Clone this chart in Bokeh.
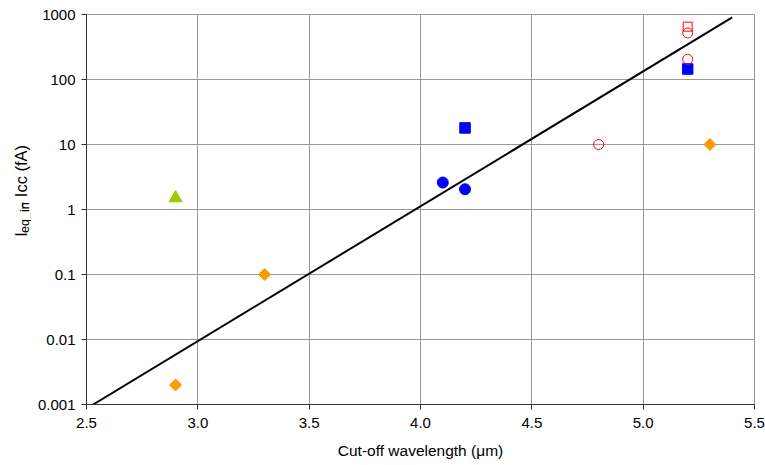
import math
from bokeh.plotting import figure
from bokeh.layouts import row
from bokeh.models import FixedTicker, PrintfTickFormatter
from bokeh.core.properties import value
from bokeh.embed import file_html
from bokeh.resources import INLINE

# ---- data ----
x_ticks = [2.5, 3.0, 3.5, 4.0, 4.5, 5.0, 5.5]
y_ticks = [0.001, 0.01, 0.1, 1, 10, 100, 1000]

tri_x = [2.9]
tri_y = [1.5]
dia_x = [2.9, 3.3, 5.3]
dia_y = [0.002, 0.1, 10]
bcirc_x = [4.1, 4.2]
bcirc_y = [2.6, 2.05]
bsq_x = [4.2, 5.2]
bsq_y = [18, 145]
rsq_x = [5.2]
rsq_y = [650]
rcirc_x = [4.8, 5.2, 5.2]
rcirc_y = [10, 205, 520]
fit_x = [2.53, 5.4]
fit_y = [0.001, 900]

y_label_parts = ["I", "eq_in", " - Icc (fA)"]

FONT = "Liberation Sans"
LEFT_W = 31
H = 465

p = figure(width=765 - LEFT_W, height=H, x_range=(2.5, 5.5), y_range=(0.001, 1000),
           y_axis_type="log", output_backend="svg", toolbar_location=None,
           min_border_left=86 - LEFT_W, min_border_right=11, min_border_top=14,
           min_border_bottom=61, background_fill_color="white",
           border_fill_color="white")
p.outline_line_color = "#999999"

p.xaxis.ticker = FixedTicker(ticks=x_ticks)
p.yaxis.ticker = FixedTicker(ticks=y_ticks)
p.xaxis.formatter = PrintfTickFormatter(format="%.1f")
p.yaxis.formatter = PrintfTickFormatter(format="%g")
p.xgrid.ticker = FixedTicker(ticks=x_ticks)
p.ygrid.ticker = FixedTicker(ticks=y_ticks)
for g in (p.xgrid, p.ygrid):
    g.grid_line_color = "#999999"
    g.grid_line_width = 1

for ax in (p.xaxis, p.yaxis):
    ax.axis_line_color = "#333333"
    ax.major_tick_line_color = "#333333"
    ax.minor_tick_line_color = None
    ax.major_tick_in = 0
    ax.major_tick_out = 5
    ax.major_label_text_font = FONT
    ax.major_label_text_font_size = "15px"
    ax.major_label_text_color = "black"

p.xaxis.major_label_standoff = 8
p.yaxis.major_label_standoff = 6
p.xaxis.axis_label = "Cut-off wavelength (μm)"
p.xaxis.axis_label_text_font = FONT
p.xaxis.axis_label_text_font_size = "15.5px"
p.xaxis.axis_label_text_font_style = "normal"
p.xaxis.axis_label_text_color = "black"
p.xaxis.axis_label_standoff = 11

# fit line
p.line(fit_x, fit_y, line_color="black", line_width=2)

# markers
p.scatter(tri_x, tri_y, marker="triangle", size=13, fill_color="#99CC00",
          line_color="#99CC00")
p.scatter(dia_x, dia_y, marker="square", angle=math.pi / 4, size=8.5,
          fill_color="#FF9900", line_color="#FF9900")
p.scatter(bcirc_x, bcirc_y, marker="circle", size=11, fill_color="#0000FF",
          line_color="#0000FF")
p.scatter(bsq_x, bsq_y, marker="square", size=10.5, fill_color="#0000FF",
          line_color="#0000FF")
p.scatter(rsq_x, rsq_y, marker="square", size=9, fill_color=None,
          line_color="#FF0000", line_width=1)
p.scatter(rcirc_x, rcirc_y, marker="circle", size=10, fill_color=None,
          line_color="#FF0000", line_width=1)

# ---- left strip holding the y-axis title (with subscript) ----
lab = figure(width=LEFT_W, height=H, x_range=(0, LEFT_W), y_range=(0, H),
             x_axis_location=None, y_axis_location=None,
             output_backend="svg", toolbar_location=None, min_border=0,
             background_fill_color="white", border_fill_color="white")
lab.grid.visible = False
lab.outline_line_color = None

MAIN_PX = 16.5
SUB_PX = 12.5
base_x = 20.5
start_y = H - 265
w_main = MAIN_PX * 0.278
w_sub = SUB_PX * 2.446
lab.text(x=[base_x], y=[start_y], text=[y_label_parts[0]], angle=math.pi / 2,
         text_font=value(FONT), text_font_size=f"{MAIN_PX}px", text_align="left",
         text_baseline="alphabetic", text_color="black")
lab.text(x=[base_x + 3.5], y=[start_y + w_main], text=[y_label_parts[1]],
         angle=math.pi / 2, text_font=value(FONT), text_font_size=f"{SUB_PX}px",
         text_align="left", text_baseline="alphabetic", text_color="black")
lab.text(x=[base_x], y=[start_y + w_main + w_sub], text=[y_label_parts[2]],
         angle=math.pi / 2, text_font=value(FONT), text_font_size=f"{MAIN_PX}px",
         text_align="left", text_baseline="alphabetic", text_color="black")

layout = row(lab, p, spacing=0)
open("out.html", "w").write(file_html(layout, INLINE))
